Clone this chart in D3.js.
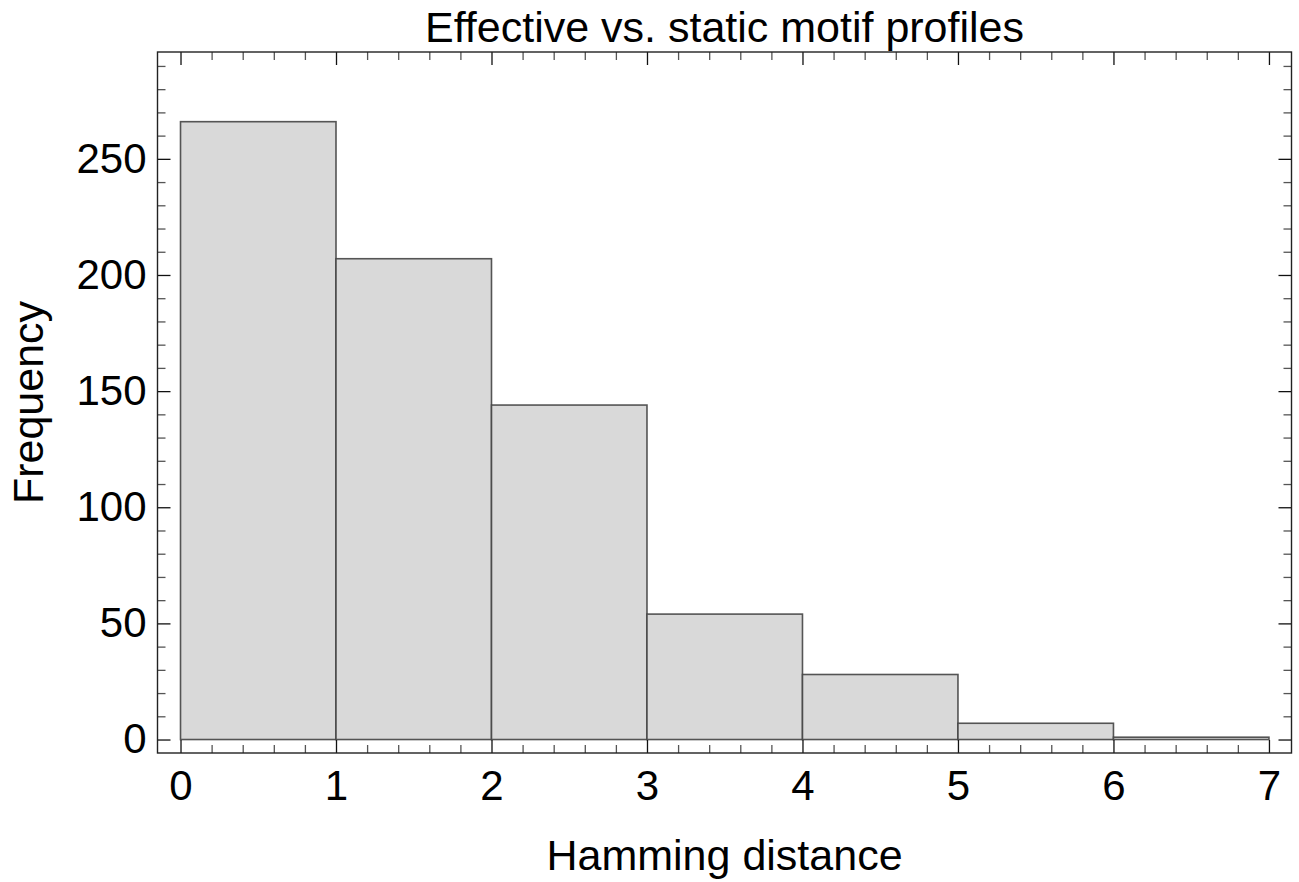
<!DOCTYPE html>
<html>
<head>
<meta charset="utf-8">
<script src="https://cdn.jsdelivr.net/npm/d3@7"></script>
<style>
  body { margin: 0; background: #fff; }
  text { font-family: 'Liberation Sans', Arial, sans-serif; }
</style>
</head>
<body>
<svg id="chart" width="1299" height="882"></svg>
<script>
// histogram bins (Hamming distance) and counts
const binStarts = [0, 1, 2, 3, 4, 5, 6];
const binEnds = [1, 2, 3, 4, 5, 6, 7];
const frequencies = [266, 207, 144, 54, 28, 7, 1];

const xMajorTicks = [0, 1, 2, 3, 4, 5, 6, 7];
const yMajorTicks = [0, 50, 100, 150, 200, 250];

const titleText = 'Effective vs. static motif profiles';
const xLabelText = 'Hamming distance';
const yLabelText = 'Frequency';

const width = 1299, height = 882;
const margin = {left: 157.5, top: 52, right: 7.5, bottom: 129};

const svg = d3.select('#chart');

const x = d3.scaleLinear()
    .domain([-0.148, 7.145])
    .range([margin.left, width - margin.right]);

const y = d3.scaleLinear()
    .domain([-5.8, 296])
    .range([height - margin.bottom, margin.top]);

const xMinor = d3.range(0, 7.001, 0.2).filter(v => Math.abs(v - Math.round(v)) > 1e-6);
const yMinor = d3.range(0, 291, 10).filter(v => v % 50 !== 0);

const majorLen = 13, minorLen = 8;
const tickFont = 42, labelFont = 43;

// bars
svg.append('g')
    .selectAll('rect')
    .data(frequencies)
    .join('rect')
    .attr('x', (d, i) => x(binStarts[i]))
    .attr('y', d => y(d))
    .attr('width', (d, i) => x(binEnds[i]) - x(binStarts[i]))
    .attr('height', d => y(0) - y(d))
    .style('fill', '#d9d9d9')
    .style('stroke', '#444')
    .style('stroke-opacity', 0.9)
    .style('stroke-width', 1.6);

// frame ticks
function drawAxis(axisGen, transform, minor) {
    let g = svg.append('g').attr('transform', transform).call(axisGen);
    g.select('.domain').remove();
    g.selectAll('.tick line').attr('stroke', minor ? '#555' : '#111').attr('stroke-width', 1.3);
    return g;
}

const bottomY = height - margin.bottom, topY = margin.top;
const leftX = margin.left, rightX = width - margin.right;

// bottom
let gx = drawAxis(d3.axisBottom(x).tickValues(xMajorTicks).tickSizeInner(-majorLen).tickSizeOuter(0).tickPadding(17).tickFormat(d3.format('d')),
    `translate(0,${bottomY})`, false);
gx.selectAll('text').attr('font-size', tickFont).attr('fill', '#000')
    .attr('font-family', "'Liberation Sans', Arial, sans-serif");
drawAxis(d3.axisBottom(x).tickValues(xMinor).tickSizeInner(-minorLen).tickSizeOuter(0).tickFormat(''),
    `translate(0,${bottomY})`, true);
// top
drawAxis(d3.axisTop(x).tickValues(xMajorTicks).tickSizeInner(-majorLen).tickSizeOuter(0).tickFormat(''),
    `translate(0,${topY})`, false);
drawAxis(d3.axisTop(x).tickValues(xMinor).tickSizeInner(-minorLen).tickSizeOuter(0).tickFormat(''),
    `translate(0,${topY})`, true);
// left
let gy = drawAxis(d3.axisLeft(y).tickValues(yMajorTicks).tickSizeInner(-majorLen).tickSizeOuter(0).tickPadding(11).tickFormat(d3.format('d')),
    `translate(${leftX},0)`, false);
gy.selectAll('text').attr('font-size', tickFont).attr('fill', '#000')
    .attr('font-family', "'Liberation Sans', Arial, sans-serif");
drawAxis(d3.axisLeft(y).tickValues(yMinor).tickSizeInner(-minorLen).tickSizeOuter(0).tickFormat(''),
    `translate(${leftX},0)`, true);
// right
drawAxis(d3.axisRight(y).tickValues(yMajorTicks).tickSizeInner(-majorLen).tickSizeOuter(0).tickFormat(''),
    `translate(${rightX},0)`, false);
drawAxis(d3.axisRight(y).tickValues(yMinor).tickSizeInner(-minorLen).tickSizeOuter(0).tickFormat(''),
    `translate(${rightX},0)`, true);

// frame
svg.append('rect')
    .attr('x', leftX)
    .attr('y', topY)
    .attr('width', rightX - leftX)
    .attr('height', bottomY - topY)
    .style('fill', 'none')
    .style('stroke', '#222')
    .style('stroke-width', 1.4);

// title
svg.append('text')
    .text(titleText)
    .attr('x', (leftX + rightX) / 2)
    .attr('y', 42)
    .attr('text-anchor', 'middle')
    .attr('font-size', labelFont);

// x label
svg.append('text')
    .text(xLabelText)
    .attr('x', (leftX + rightX) / 2)
    .attr('y', 870)
    .attr('text-anchor', 'middle')
    .attr('font-size', labelFont);

// y label
svg.append('text')
    .text(yLabelText)
    .attr('transform', `translate(43,${(topY + bottomY) / 2}) rotate(-90)`)
    .attr('text-anchor', 'middle')
    .attr('font-size', labelFont);
</script>
</body>
</html>
